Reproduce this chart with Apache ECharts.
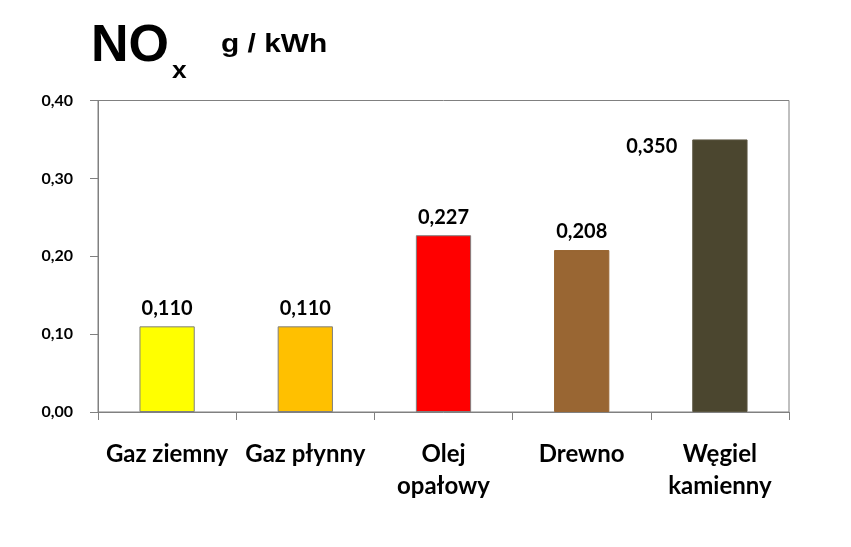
<!DOCTYPE html>
<html>
<head>
<meta charset="utf-8">
<script src="https://cdn.jsdelivr.net/npm/echarts@6/dist/echarts.min.js"></script>
<style>html,body{margin:0;padding:0;background:#fff}#c{width:851px;height:547px}</style>
</head>
<body>
<div id="c"></div>
<script>
const categories = ['Gaz ziemny', 'Gaz płynny', 'Olej\nopałowy', 'Drewno', 'Węgiel\nkamienny'];
const values = [0.110, 0.110, 0.227, 0.208, 0.350];
const barColors = ['#FFFF00', '#FFC000', '#FF0000', '#996633', '#4B462F'];
const borderColors = ['#7F7F7F', '#7F7F7F', '#7F7F7F', '#996633', '#5A5540'];
const yTicks = [0, 0.1, 0.2, 0.3, 0.4];

const chart = echarts.init(document.getElementById('c'));
const fmt = v => v.toFixed(3).replace('.', ',');
const data = values.map((v, i) => {
  const d = { value: v, itemStyle: { color: barColors[i], borderColor: borderColors[i], borderWidth: 1 } };
  if (i === values.length - 1) {
    d.label = { position: [-15, 7], align: 'right', verticalAlign: 'middle' };
  }
  return d;
});
chart.setOption({
  animation: false,
  backgroundColor: '#fff',
  grid: { left: 98, right: 62, top: 100.5, bottom: 135, show: true, borderColor: '#808080', borderWidth: 1 },
  graphic: [
    { type: 'text', x: 91, y: 21, style: { text: 'NO', font: 'bold 52px "Liberation Sans", Arial, sans-serif', fill: '#000' } },
    { type: 'text', x: 172, y: 59, scaleX: 1.1, style: { text: 'x', font: 'bold 24px "Liberation Sans", Arial, sans-serif', fill: '#000' } },
    { type: 'text', x: 221, y: 32, scaleX: 1.15, style: { text: 'g / kWh', font: 'bold 26px "Liberation Sans", Arial, sans-serif', fill: '#000' } }
  ],
  xAxis: {
    type: 'category',
    data: categories,
    axisLine: { lineStyle: { color: '#808080', width: 1 } },
    axisTick: { show: true, length: 8, interval: 0, lineStyle: { color: '#808080' } },
    axisLabel: { interval: 0, margin: 26, color: '#000', fontFamily: 'Lato', fontWeight: 'bold', fontSize: 24, lineHeight: 32 }
  },
  yAxis: {
    type: 'value',
    min: 0, max: 0.4, interval: 0.1,
    splitLine: { show: false },
    axisLine: { show: true, lineStyle: { color: '#808080', width: 1 } },
    axisTick: { show: true, length: 8, lineStyle: { color: '#808080' } },
    axisLabel: {
      margin: 25, color: '#000', fontFamily: 'Lato', fontWeight: 'bold', fontSize: 16,
      formatter: v => { const t = yTicks.find(x => Math.abs(x - v) < 1e-9); return (t !== undefined ? t : v).toFixed(2).replace('.', ','); }
    }
  },
  series: [{
    type: 'bar',
    data: data,
    barWidth: '40%',
    label: {
      show: true, position: 'top', distance: 8,
      color: '#000', fontFamily: 'Lato', fontWeight: 'bold', fontSize: 20,
      formatter: p => fmt(p.value)
    }
  }]
});
</script>
</body>
</html>
